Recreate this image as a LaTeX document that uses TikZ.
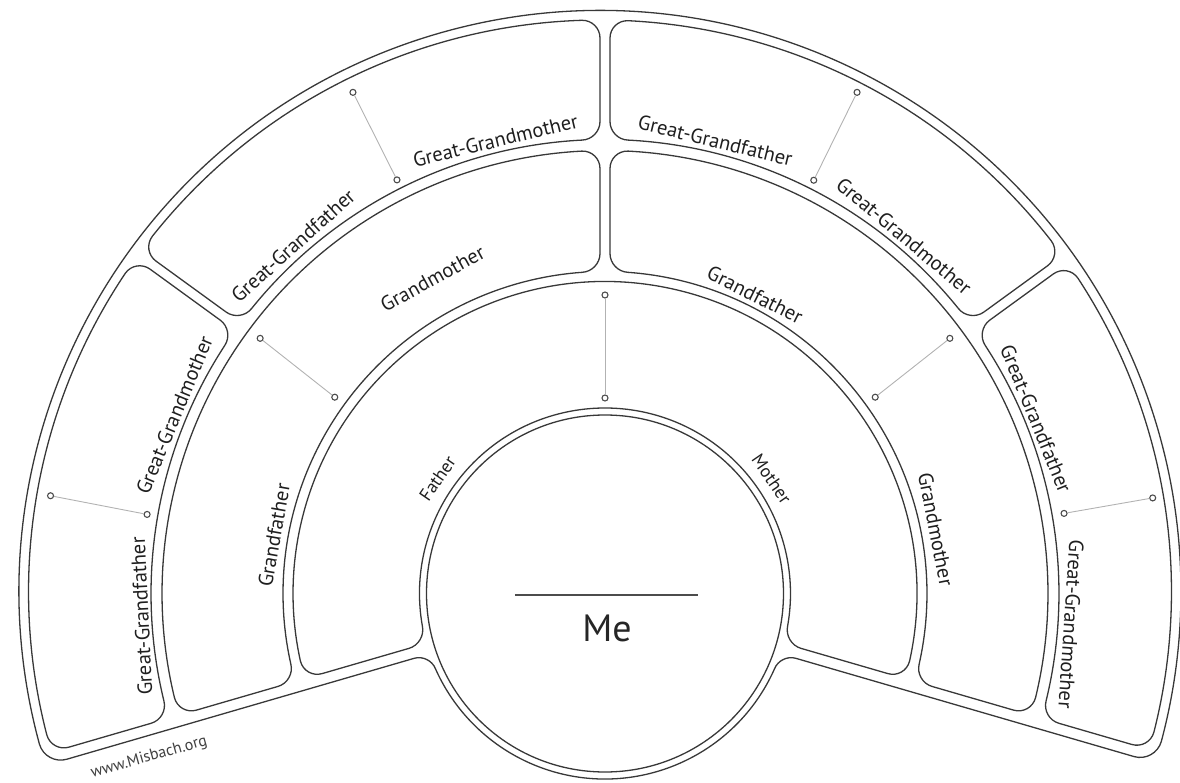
\documentclass[tikz,border=0pt]{standalone}
\usepackage{fontspec}
\setmainfont{PT Sans}
\usetikzlibrary{calc}
\begin{document}
\begin{tikzpicture}[x=1pt,y=1pt,
  cellline/.style={draw=black!78, line width=1.3pt},
  conn/.style={draw=black!30, line width=0.9pt},
  marker/.style={circle, draw=black!70, fill=white, line width=1.1pt, inner sep=0pt, minimum size=6pt},
  lblA/.style={font=\fontsize{18}{18}\selectfont, text=black!88, inner sep=0pt, anchor=base},
  lblB/.style={font=\fontsize{20.5}{20.5}\selectfont, text=black!88, inner sep=0pt, anchor=base},
  lblC/.style={font=\fontsize{20.5}{20.5}\selectfont, text=black!88, inner sep=0pt, anchor=base},
]
\useasboundingbox (-605,-188.5) rectangle (575,593.5);
\def\fckr{18}
% ---------- cell macro ----------
\newcommand{\famcell}[9]{%
 \pgfmathsetmacro{\fcpA}{#2}\pgfmathsetmacro{\fcoA}{#3}%
 \pgfmathsetmacro{\fcpB}{#4}\pgfmathsetmacro{\fcoB}{#5}%
 \pgfmathsetmacro{\fcri}{#6}\pgfmathsetmacro{\fcro}{#7}%
 \pgfmathsetmacro{\fcdx}{#8}\pgfmathsetmacro{\fcdy}{#9}%
 \pgfmathsetmacro{\fcsiA}{\fcri*sqrt(1-(\fcoA/\fcri)^2)}%
 \pgfmathsetmacro{\fcsiB}{\fcri*sqrt(1-(\fcoB/\fcri)^2)}%
 \pgfmathsetmacro{\fcduA}{\fcdx*cos(\fcpA)+\fcdy*sin(\fcpA)}%
 \pgfmathsetmacro{\fcdnA}{-\fcdx*sin(\fcpA)+\fcdy*cos(\fcpA)}%
 \pgfmathsetmacro{\fcduB}{\fcdx*cos(\fcpB)+\fcdy*sin(\fcpB)}%
 \pgfmathsetmacro{\fcdnB}{-\fcdx*sin(\fcpB)+\fcdy*cos(\fcpB)}%
 \pgfmathsetmacro{\fcsoA}{\fcduA+\fcro*sqrt(1-((\fcoA-\fcdnA)/\fcro)^2)}%
 \pgfmathsetmacro{\fcsoB}{\fcduB+\fcro*sqrt(1-((\fcoB-\fcdnB)/\fcro)^2)}%
 \pgfmathsetmacro{\fcxai}{\fcsiA*cos(\fcpA)-\fcoA*sin(\fcpA)}%
 \pgfmathsetmacro{\fcyai}{\fcsiA*sin(\fcpA)+\fcoA*cos(\fcpA)}%
 \pgfmathsetmacro{\fcxao}{\fcsoA*cos(\fcpA)-\fcoA*sin(\fcpA)}%
 \pgfmathsetmacro{\fcyao}{\fcsoA*sin(\fcpA)+\fcoA*cos(\fcpA)}%
 \pgfmathsetmacro{\fcxbi}{\fcsiB*cos(\fcpB)-\fcoB*sin(\fcpB)}%
 \pgfmathsetmacro{\fcybi}{\fcsiB*sin(\fcpB)+\fcoB*cos(\fcpB)}%
 \pgfmathsetmacro{\fcxbo}{\fcsoB*cos(\fcpB)-\fcoB*sin(\fcpB)}%
 \pgfmathsetmacro{\fcybo}{\fcsoB*sin(\fcpB)+\fcoB*cos(\fcpB)}%
 \pgfmathsetmacro{\fctai}{atan2(\fcyai,\fcxai)}%
 \pgfmathsetmacro{\fctai}{(\fctai<-90)?(\fctai+360):(\fctai)}%
 \pgfmathsetmacro{\fctbi}{atan2(\fcybi,\fcxbi)}%
 \pgfmathsetmacro{\fctbi}{(\fctbi<-90)?(\fctbi+360):(\fctbi)}%
 \pgfmathsetmacro{\fctao}{atan2(\fcyao-\fcdy,\fcxao-\fcdx)}%
 \pgfmathsetmacro{\fctao}{(\fctao<-90)?(\fctao+360):(\fctao)}%
 \pgfmathsetmacro{\fctbo}{atan2(\fcybo-\fcdy,\fcxbo-\fcdx)}%
 \pgfmathsetmacro{\fctbo}{(\fctbo<-90)?(\fctbo+360):(\fctbo)}%
 \pgfmathsetmacro{\fcdli}{\fckr/\fcri*57.29578}%
 \pgfmathsetmacro{\fcdlo}{\fckr/\fcro*57.29578}%
 \pgfmathsetmacro{\fctos}{\fctbo+\fcdlo}\pgfmathsetmacro{\fctoe}{\fctao-\fcdlo}%
 \pgfmathsetmacro{\fctis}{\fctai-\fcdli}\pgfmathsetmacro{\fctie}{\fctbi+\fcdli}%
 \coordinate (#1-ai) at (\fcxai,\fcyai);
 \coordinate (#1-ao) at (\fcxao,\fcyao);
 \coordinate (#1-bi) at (\fcxbi,\fcybi);
 \coordinate (#1-bo) at (\fcxbo,\fcybo);
 \coordinate (#1-b1) at ($(#1-bi)!\fckr pt!(#1-bo)$);
 \coordinate (#1-b2) at ($(#1-bo)!\fckr pt!(#1-bi)$);
 \coordinate (#1-a2) at ($(#1-ao)!\fckr pt!(#1-ai)$);
 \coordinate (#1-a1) at ($(#1-ai)!\fckr pt!(#1-ao)$);
 \coordinate (#1-o1) at ($(\fcdx,\fcdy)+(\fctos:\fcro)$);
 \coordinate (#1-o2) at ($(\fcdx,\fcdy)+(\fctoe:\fcro)$);
 \coordinate (#1-i1) at (\fctis:\fcri);
 \coordinate (#1-i2) at (\fctie:\fcri);
 \draw[cellline] (#1-b1) -- (#1-b2)
   .. controls ($(#1-b2)!0.55!(#1-bo)$) and ($(#1-o1)!0.55!(#1-bo)$) .. (#1-o1)
   arc[start angle=\fctos, end angle=\fctoe, radius=\fcro]
   .. controls ($(#1-o2)!0.55!(#1-ao)$) and ($(#1-a2)!0.55!(#1-ao)$) .. (#1-a2)
   -- (#1-a1)
   .. controls ($(#1-a1)!0.55!(#1-ai)$) and ($(#1-i1)!0.55!(#1-ai)$) .. (#1-i1)
   arc[start angle=\fctis, end angle=\fctie, radius=\fcri]
   .. controls ($(#1-i2)!0.55!(#1-bi)$) and ($(#1-b1)!0.55!(#1-bi)$) .. (#1-b1) -- cycle;
}
% ---------- geometry ----------
\def\phL{196.2}\def\phR{-16.2}
\def\oc{2}\def\oo{9}\def\od{5}
\def\rIa{185.5}\def\rIb{312}\def\rIIa{322}\def\rIIb{443}\def\rIIIa{454}\def\rIIIb{571.5}\def\rOut{581}
\def\cx{-5}\def\cy{2}
% ---------- outer boundary ----------
\pgfmathsetmacro{\bduL}{\cx*cos(\phL)+\cy*sin(\phL)}
\pgfmathsetmacro{\bdnL}{-\cx*sin(\phL)+\cy*cos(\phL)}
\pgfmathsetmacro{\bduR}{\cx*cos(\phR)+\cy*sin(\phR)}
\pgfmathsetmacro{\bdnR}{-\cx*sin(\phR)+\cy*cos(\phR)}
\pgfmathsetmacro{\bsLo}{\bduL+\rOut*sqrt(1-((\oo-\bdnL)/\rOut)^2)}
\pgfmathsetmacro{\bsRo}{\bduR+\rOut*sqrt(1-((-\oo-\bdnR)/\rOut)^2)}
\pgfmathsetmacro{\bsLi}{\rIa*sqrt(1-(\oo/\rIa)^2)}
\coordinate (Lo) at ($(\phL:\bsLo)+(\phL+90:\oo)$);
\coordinate (Li) at ($(\phL:\bsLi)+(\phL+90:\oo)$);
\coordinate (Ro) at ($(\phR:\bsRo)+(\phR+90:-\oo)$);
\coordinate (Ri) at ($(\phR:\bsLi)+(\phR+90:-\oo)$);
\pgfmathsetmacro{\xLo}{\bsLo*cos(\phL)-\oo*sin(\phL)}
\pgfmathsetmacro{\yLo}{\bsLo*sin(\phL)+\oo*cos(\phL)}
\pgfmathsetmacro{\xRo}{\bsRo*cos(\phR)+\oo*sin(\phR)}
\pgfmathsetmacro{\yRo}{\bsRo*sin(\phR)-\oo*cos(\phR)}
\pgfmathsetmacro{\tLo}{atan2(\yLo-\cy,\xLo-\cx)+360}
\pgfmathsetmacro{\tRo}{atan2(\yRo-\cy,\xRo-\cx)}
\pgfmathsetmacro{\tLi}{\phL+asin(\oo/\rIa)-360}
\pgfmathsetmacro{\tRi}{\phR-asin(\oo/\rIa)}
\def\ko{22}\def\kf{16}
\pgfmathsetmacro{\dOut}{\ko/\rOut*57.29578}
\pgfmathsetmacro{\dIn}{\kf/\rIa*57.29578}
\coordinate (L1) at ($(Li)!\kf pt!(Lo)$);
\coordinate (L2) at ($(Lo)!\ko pt!(Li)$);
\coordinate (R1) at ($(Ri)!\kf pt!(Ro)$);
\coordinate (R2) at ($(Ro)!\ko pt!(Ri)$);
\coordinate (T1) at ($(\cx,\cy)+(\tLo-\dOut:\rOut)$);
\coordinate (T2) at ($(\cx,\cy)+(\tRo+\dOut:\rOut)$);
\coordinate (B1) at (\tRi-\dIn:\rIa);
\coordinate (B2) at (\tLi+\dIn:\rIa);
\draw[cellline] (L1) -- (L2)
  .. controls ($(L2)!0.55!(Lo)$) and ($(T1)!0.55!(Lo)$) .. (T1)
  arc[start angle=\tLo-\dOut, end angle=\tRo+\dOut, radius=\rOut]
  .. controls ($(T2)!0.55!(Ro)$) and ($(R2)!0.55!(Ro)$) .. (R2)
  -- (R1)
  .. controls ($(R1)!0.55!(Ri)$) and ($(B1)!0.55!(Ri)$) .. (B1)
  arc[start angle=\tRi-\dIn, end angle=\tLi+\dIn, radius=\rIa]
  .. controls ($(B2)!0.55!(Li)$) and ($(L1)!0.55!(Li)$) .. (L1) -- cycle;
% ---------- cells ----------
\famcell{pa}{\phL}{-\oc}{\phR}{\oc}{\rIa}{\rIb}{0}{0}
\famcell{gl}{\phL}{-\oc}{90}{\od}{\rIIa}{\rIIb}{0}{0}
\famcell{gr}{90}{-\od}{\phR}{\oc}{\rIIa}{\rIIb}{0}{0}
\famcell{g1}{\phL}{-\oc}{144}{\od}{\rIIIa}{\rIIIb}{\cx}{\cy}
\famcell{g2}{144}{-\od}{90}{\od}{\rIIIa}{\rIIIb}{\cx}{\cy}
\famcell{g3}{90}{-\od}{36}{\od}{\rIIIa}{\rIIIb}{\cx}{\cy}
\famcell{g4}{36}{-\od}{\phR}{\oc}{\rIIIa}{\rIIIb}{\cx}{\cy}
% ---------- me ----------
\draw[cellline] (0,0) circle[radius=178.5];
\coordinate (meL) at (-90,-1.5);
\coordinate (meR) at (93,-1.5);
\draw[draw=black!70, line width=1.1pt] (meL) -- (meR);
\node[font=\fontsize{38}{38}\selectfont, text=black!85] (me) at (2,-34.5) {Me};
% ---------- connectors ----------
\foreach \n/\a/\r in {p1/90/298.5, p2/90/195.5,
   l1/143.5/429, l2/144/334, r1/36.5/429, r2/36/334,
   u1/116.7/561, u2/116.7/463, v1/63.3/561, v2/63.2/463,
   w1/170/563, w2/170.2/464.7, z1/9.9/556, z2/9.9/466}
  \node[marker] (\n) at (\a:\r) {};
\draw[conn] (p1) -- (p2);
\draw[conn] (l1) -- (l2);
\draw[conn] (r1) -- (r2);
\draw[conn] (u1) -- (u2);
\draw[conn] (v1) -- (v2);
\draw[conn] (w1) -- (w2);
\draw[conn] (z1) -- (z2);
% ---------- labels ----------
\foreach \n/\a/\r/\s/\t in {
   fa/145.5/197/lblA/Father, mo/34.5/196/lblA/Mother,
   lgf/170/329/lblB/Grandfather, lgm/118.7/352/lblB/Grandmother,
   rgf/63.3/327/lblB/Grandfather, rgm/11/330/lblB/Grandmother,
   c1/182.8/457/lblC/Great-Grandfather, c2/157.5/459/lblC/Great-Grandmother,
   c3/131.9/460/lblC/Great-Grandfather, c4/103.6/459/lblC/Great-Grandmother,
   c5/76.3/459/lblC/Great-Grandfather, c6/50.1/459/lblC/Great-Grandmother,
   c7/22.1/458/lblC/Great-Grandfather, c8/-3.8/460/lblC/Great-Grandmother}
  \node[\s, rotate=\a-90] (\n) at (\a:\r) {\t};
\node[rotate=15.6, font=\fontsize{16}{16}\selectfont, text=black!75] (url) at (-456,-164) {www.Misbach.org};
\end{tikzpicture}
\end{document}
